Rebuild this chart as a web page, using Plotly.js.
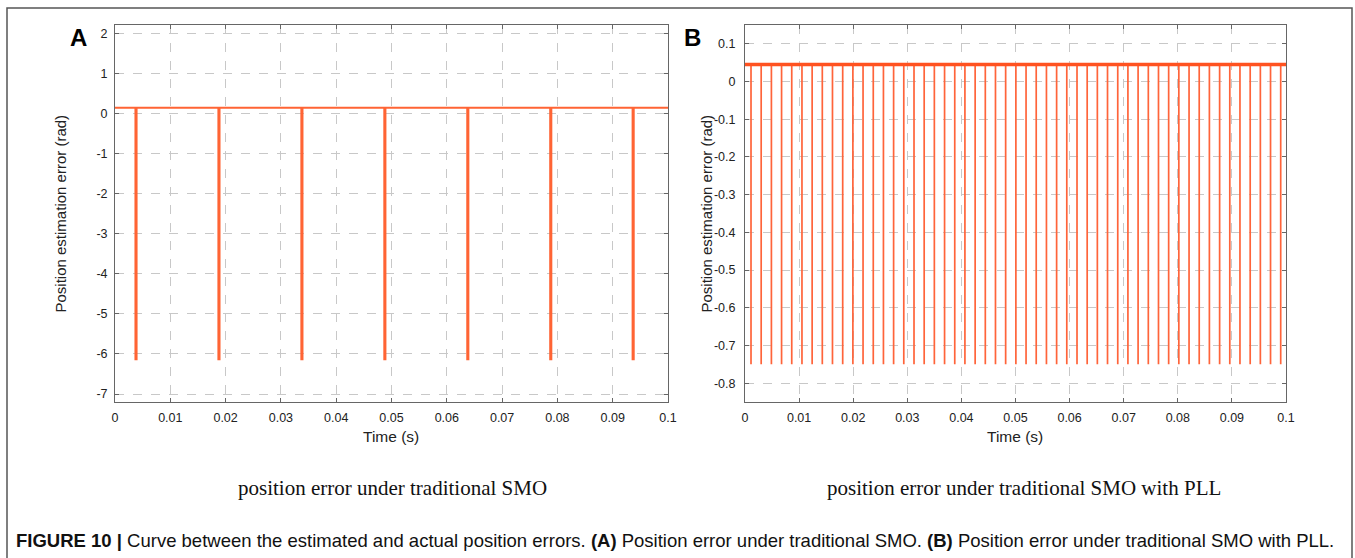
<!DOCTYPE html>
<html>
<head>
<meta charset="utf-8">
<script src="https://cdn.plot.ly/plotly-3.0.1.min.js"></script>
<style>
html,body{margin:0;padding:0;background:#fff;}
#chart{width:1355px;height:558px;}
</style>
</head>
<body>
<div id="chart"></div>
<script>
// ---------- DATA ----------
// Panel A: traditional SMO
const levelA = 0.15;          // steady position error (rad)
const spikeMinA = -6.13;      // bottom of each error spike (rad)
const spikeTimesA = [0.0037, 0.0187, 0.0337, 0.0487, 0.0637, 0.0787, 0.0936];
const spikeWidthA = 0.0002;

// Panel B: traditional SMO with PLL
const levelB = 0.045;
const spikeMinB = -0.75;
const spikeTimesB = [
  0.00111, 0.00299, 0.00488, 0.00676, 0.00864, 0.01053, 0.01241, 0.01429, 0.01617, 0.01806,
  0.01994, 0.02182, 0.02371, 0.02559, 0.02747, 0.02935, 0.03124, 0.03312, 0.03500, 0.03689,
  0.03877, 0.04065, 0.04254, 0.04442, 0.04630, 0.04818, 0.05007, 0.05195, 0.05383, 0.05572,
  0.05760, 0.05948, 0.06137, 0.06325, 0.06513, 0.06701, 0.06890, 0.07078, 0.07266, 0.07455,
  0.07643, 0.07831, 0.08019, 0.08208, 0.08396, 0.08584, 0.08773, 0.08961, 0.09149, 0.09338,
  0.09526, 0.09714, 0.09902
];
const timeStart = 0;
const timeEnd = 0.1;

// Tick labels
const xTickVals = [0, 0.01, 0.02, 0.03, 0.04, 0.05, 0.06, 0.07, 0.08, 0.09, 0.1];
const xTickText = ['0', '0.01', '0.02', '0.03', '0.04', '0.05', '0.06', '0.07', '0.08', '0.09', '0.1'];
const yTickValsA = [2, 1, 0, -1, -2, -3, -4, -5, -6, -7];
const yTickTextA = ['2', '1', '0', '-1', '-2', '-3', '-4', '-5', '-6', '-7'];
const yTickValsB = [0.1, 0, -0.1, -0.2, -0.3, -0.4, -0.5, -0.6, -0.7, -0.8];
const yTickTextB = ['0.1', '0', '-0.1', '-0.2', '-0.3', '-0.4', '-0.5', '-0.6', '-0.7', '-0.8'];

// Texts
const panelLabels = ['A', 'B'];
const xTitle = 'Time (s)';
const yTitle = 'Position estimation error (rad)';
const subTitles = ['position error under traditional SMO', 'position error under traditional SMO with PLL'];
const captionHtml = '<b>FIGURE 10 |</b> Curve between the estimated and actual position errors. <b>(A)</b> Position error under traditional SMO. <b>(B)</b> Position error under traditional SMO with PLL.';

// ---------- BUILD TRACES ----------
function buildA() {
  const x = [timeStart], y = [levelA];
  spikeTimesA.forEach(t => {
    x.push(t, t, t + spikeWidthA, t + spikeWidthA);
    y.push(levelA, spikeMinA, spikeMinA, levelA);
  });
  x.push(timeEnd); y.push(levelA);
  return {x, y};
}
function buildB() {
  const x = [], y = [];
  spikeTimesB.forEach(t => {
    x.push(t, t, null);
    y.push(levelB, spikeMinB, null);
  });
  return {x, y};
}
const a = buildA();
const b = buildB();
const lineColor = 'rgb(255,100,52)';
const lineColorB = 'rgb(255,82,32)';

const traces = [
  {x: a.x, y: a.y, type: 'scatter', mode: 'lines', line: {color: lineColor, width: 2}, xaxis: 'x', yaxis: 'y', hoverinfo: 'skip'},
  {x: b.x, y: b.y, type: 'scatter', mode: 'lines', line: {color: 'rgb(255,100,58)', width: 1.7}, xaxis: 'x2', yaxis: 'y2', connectgaps: false, hoverinfo: 'skip'},
  {x: [timeStart, timeEnd], y: [levelB, levelB], type: 'scatter', mode: 'lines', line: {color: lineColorB, width: 3.5}, xaxis: 'x2', yaxis: 'y2', hoverinfo: 'skip'}
];

// ---------- LAYOUT ----------
const W = 1355, H = 558;
const px = v => v / W;
const py = v => 1 - v / H;
const plotTop = 25, plotBot = 402;
const axA = [115, 668], axB = [745, 1286];

const tickFont = {family: 'Liberation Sans, Arial, sans-serif', size: 12.5, color: '#222'};
function xAxis(dom) {
  return {
    domain: [px(dom[0]), px(dom[1])], range: [timeStart, timeEnd], tickvals: xTickVals, ticktext: xTickText,
    showgrid: true, gridcolor: '#c8c8c8', griddash: 'dash', gridwidth: 1, zeroline: false,
    showline: true, linecolor: '#666', linewidth: 1, mirror: 'ticks', ticks: 'inside', ticklen: 4, tickcolor: '#666',
    tickfont: tickFont, fixedrange: true, ticklabelstandoff: 4
  };
}
function yAxis(range, vals, text, anchor, standoff) {
  return {
    domain: [py(plotBot), py(plotTop)], range: range, tickvals: vals, ticktext: text, anchor: anchor,
    showgrid: true, gridcolor: '#c8c8c8', griddash: 'dash', gridwidth: 1, zeroline: false,
    showline: true, linecolor: '#666', linewidth: 1, mirror: 'ticks', ticks: 'inside', ticklen: 4, tickcolor: '#666',
    tickfont: tickFont, fixedrange: true, ticklabelstandoff: standoff
  };
}

const ann = [];
const labelX = [78, 693];
panelLabels.forEach((t, i) => ann.push({text: '<b>' + t + '</b>', x: px(labelX[i]), y: py(37), xref: 'paper', yref: 'paper', xanchor: 'center', yanchor: 'middle', showarrow: false, font: {family: 'Liberation Sans, Arial, sans-serif', size: 24, color: '#000'}}));
const centers = [(axA[0] + axA[1]) / 2, (axB[0] + axB[1]) / 2];
const yTitleX = [60, 706];
centers.forEach((c, i) => {
  ann.push({text: xTitle, x: px(c), y: py(436), xref: 'paper', yref: 'paper', xanchor: 'center', yanchor: 'middle', showarrow: false, font: {family: 'Liberation Sans, Arial, sans-serif', size: 15.5, color: '#222'}});
  ann.push({text: yTitle, x: px(yTitleX[i]), y: py((plotTop + plotBot) / 2), xref: 'paper', yref: 'paper', xanchor: 'center', yanchor: 'middle', textangle: -90, showarrow: false, font: {family: 'Liberation Sans, Arial, sans-serif', size: 15, color: '#222'}});
});
const subX = [392, 1024];
subTitles.forEach((t, i) => ann.push({text: t, x: px(subX[i]), y: py(488), xref: 'paper', yref: 'paper', xanchor: 'center', yanchor: 'middle', showarrow: false, font: {family: 'Liberation Serif, Times New Roman, serif', size: 21, color: '#111'}}));
ann.push({text: captionHtml, x: px(14), y: py(540), xref: 'paper', yref: 'paper', xanchor: 'left', yanchor: 'middle', showarrow: false, font: {family: 'Liberation Sans, Arial, sans-serif', size: 18.5, color: '#111'}});

const layout = {
  width: W, height: H, margin: {l: 0, r: 0, t: 0, b: 0},
  paper_bgcolor: '#fff', plot_bgcolor: '#fff', showlegend: false,
  xaxis: Object.assign(xAxis(axA), {anchor: 'y'}), yaxis: yAxis([-7.2, 2.22], yTickValsA, yTickTextA, 'x', 4),
  xaxis2: Object.assign(xAxis(axB), {anchor: 'y2'}), yaxis2: yAxis([-0.85, 0.15], yTickValsB, yTickTextB, 'x2', 6),
  annotations: ann,
  shapes: [{type: 'rect', xref: 'paper', yref: 'paper', x0: px(7), x1: px(1352), y0: py(575), y1: py(8), line: {color: '#555', width: 1.5}, fillcolor: 'rgba(0,0,0,0)'}]
};

Plotly.newPlot('chart', traces, layout, {staticPlot: true, displayModeBar: false});
</script>
</body>
</html>
